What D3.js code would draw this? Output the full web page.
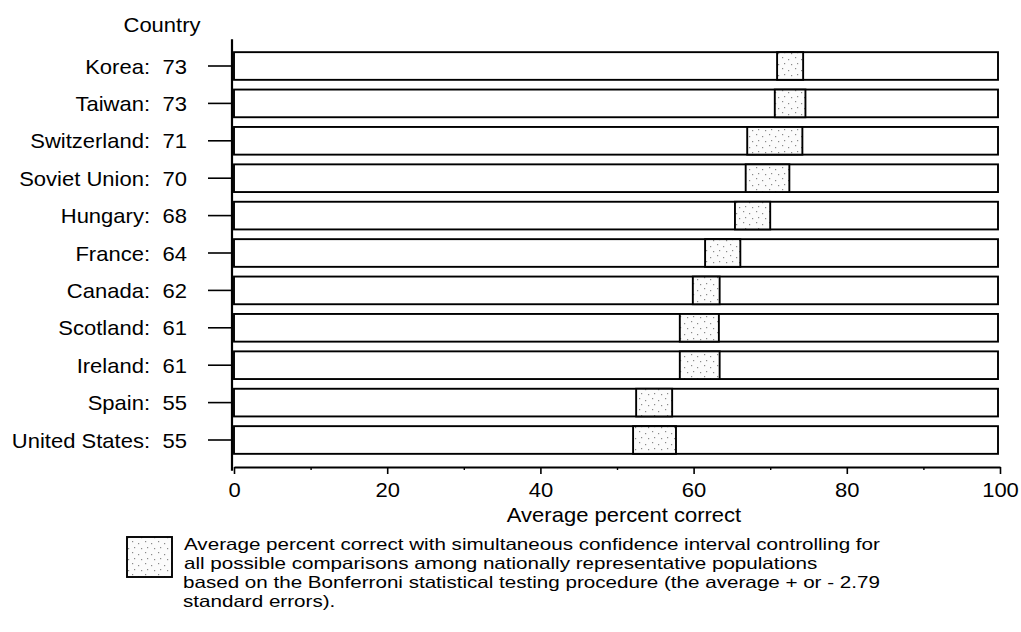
<!DOCTYPE html>
<html>
<head>
<meta charset="utf-8">
<script src="https://cdn.jsdelivr.net/npm/d3@7"></script>
<style>
  html, body { margin: 0; padding: 0; background: #fff; }
  svg { display: block; font-family: "Liberation Sans", Arial, Helvetica, sans-serif; }
</style>
</head>
<body>
<svg id="chart" width="1021" height="632"></svg>
<script>
// ---- data ----
const countries = ["Korea", "Taiwan", "Switzerland", "Soviet Union", "Hungary", "France",
                   "Canada", "Scotland", "Ireland", "Spain", "United States"];
const averages  = [73, 73, 71, 70, 68, 64, 62, 61, 61, 55, 55];
const ciLow     = [70.9, 70.6, 67.0, 66.8, 65.4, 61.5, 59.9, 58.2, 58.2, 52.5, 52.1];
const ciHigh    = [74.3, 74.6, 74.2, 72.5, 70.0, 66.1, 63.4, 63.3, 63.4, 57.2, 57.7];
const majorTicks = [0, 20, 40, 60, 80, 100];
const minorTicks = [10, 30, 50, 70, 90];
const yHeader = "Country";
const xTitle = "Average percent correct";
const legendLines = [
  "Average percent correct with simultaneous confidence interval controlling for",
  "all possible comparisons among nationally representative populations",
  "based on the Bonferroni statistical testing procedure (the average + or - 2.79",
  "standard errors)."
];

const rows = countries.map((c, i) => ({ country: c, avg: averages[i], lo: ciLow[i], hi: ciHigh[i] }));

const svg = d3.select("#chart");
const SX = 1.1;   // horizontal stretch of the original typeface
const SXL = 1.25; // legend text stretch

// pattern for the lightly stippled CI box
const defs = svg.append("defs");
const pat = defs.append("pattern").attr("id", "stipple").attr("patternUnits", "userSpaceOnUse")
  .attr("width", 13).attr("height", 11);
pat.append("rect").attr("width", 13).attr("height", 11).attr("fill", "#fbfbfb");
[[2,2],[8,4],[4,8],[11,9]].forEach(([a,b]) =>
  pat.append("rect").attr("x", a).attr("y", b).attr("width", 1.2).attr("height", 1.2).attr("fill", "#8a8a8a"));

// ---- scales ----
const x = d3.scaleLinear().domain([0, 100]).range([234, 1000]);
const y = d3.scaleBand().domain(countries).range([47.3, 458.7]).paddingInner(0.26).paddingOuter(0.13);

// ---- bars ----
const g = svg.append("g");
g.selectAll("rect.bar").data(rows).join("rect")
  .attr("class", "bar")
  .attr("x", x(0)).attr("y", d => y(d.country))
  .attr("width", x(100) - x(0) - 2).attr("height", y.bandwidth())
  .attr("fill", "#fff").attr("stroke", "#000").attr("stroke-width", 1.9);

g.selectAll("rect.ci").data(rows).join("rect")
  .attr("class", "ci")
  .attr("x", d => x(d.lo)).attr("y", d => y(d.country))
  .attr("width", d => x(d.hi) - x(d.lo)).attr("height", y.bandwidth())
  .attr("fill", "url(#stipple)").attr("stroke", "#000").attr("stroke-width", 1.9);

// ---- y axis ----
const yAxis = svg.append("g").attr("transform", `translate(${x(0) - 2},0)`)
  .call(d3.axisLeft(y).tickSize(24).tickSizeOuter(0).tickFormat(""));
yAxis.select(".domain").attr("d", `M0,${y.range()[0] - 8}V${y.range()[1] + 12}`)
  .attr("stroke-width", 2.2);
yAxis.selectAll(".tick line").attr("stroke-width", 1.6);

// labels: "Name:" and value in two columns
const lab = svg.append("g").attr("font-size", 20).attr("fill", "#000");
lab.selectAll("text.name").data(rows).join("text")
  .attr("class", "name")
  .attr("transform", d => `translate(150,${y(d.country) + y.bandwidth() / 2 + 7.5}) scale(${SX},1)`)
  .attr("text-anchor", "end").text(d => d.country + ":");
lab.selectAll("text.val").data(rows).join("text")
  .attr("class", "val")
  .attr("transform", d => `translate(187,${y(d.country) + y.bandwidth() / 2 + 7.5}) scale(${SX},1)`)
  .attr("text-anchor", "end").text(d => d.avg);

svg.append("text").attr("transform", `translate(162,32) scale(${SX},1)`)
  .attr("text-anchor", "middle").attr("font-size", 20).text(yHeader);

// ---- x axis ----
const axisY = 467;
const xAxis = svg.append("g").attr("transform", `translate(0,${axisY})`)
  .call(d3.axisBottom(x).tickValues(majorTicks).tickSize(7).tickSizeOuter(0).tickPadding(9));
xAxis.select(".domain").attr("stroke-width", 2.2);
xAxis.selectAll(".tick line").attr("stroke-width", 1.6);
xAxis.selectAll(".tick text").attr("font-size", 20).attr("fill", "#000")
  .attr("font-family", "Liberation Sans, Arial, sans-serif")
  .attr("transform", `scale(${SX},1)`)
  .attr("dy", "0.71em");

const xMinor = svg.append("g").attr("transform", `translate(0,${axisY})`)
  .call(d3.axisBottom(x).tickValues(minorTicks).tickSize(3).tickSizeOuter(0).tickFormat(""));
xMinor.select(".domain").remove();
xMinor.selectAll(".tick line").attr("stroke-width", 1.4);

svg.append("text").attr("transform", `translate(${x(50) + 7},522) scale(${SX},1)`)
  .attr("text-anchor", "middle").attr("font-size", 20).text(xTitle);

// ---- legend ----
svg.append("rect").attr("x", 127).attr("y", 537).attr("width", 45).attr("height", 40)
  .attr("fill", "url(#stipple)").attr("stroke", "#000").attr("stroke-width", 1.9);
svg.append("g").attr("font-size", 16.5).selectAll("text").data(legendLines).join("text")
  .attr("transform", (d, i) => `translate(${i < 2 ? 184 : 183},${550 + i * 19}) scale(${SXL},1)`)
  .text(d => d);
</script>
</body>
</html>
